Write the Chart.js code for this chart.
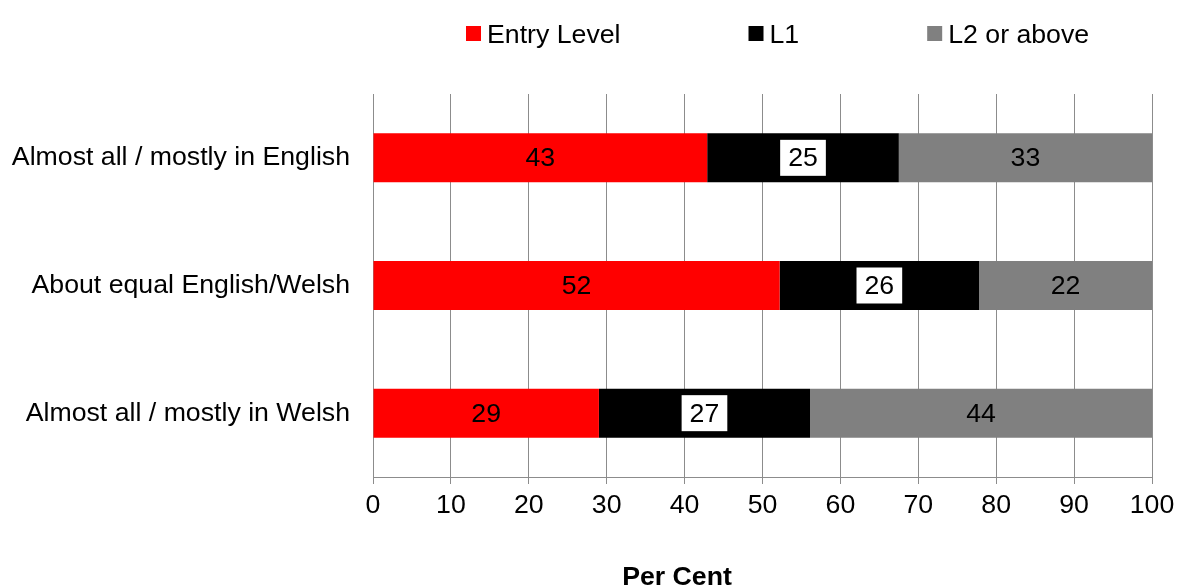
<!DOCTYPE html>
<html>
<head>
<meta charset="utf-8">
<script src="https://cdn.jsdelivr.net/npm/chart.js@4.4.0/dist/chart.umd.min.js"></script>
<style>
    html, body { margin: 0; padding: 0; background: #fff; }
</style>
</head>
<body>
<canvas id="levelChart" width="1178" height="587"></canvas>
<script>
// Values (each bar adds up to 100)
const categories = ['Almost all / mostly in English', 'About equal English/Welsh', 'Almost all / mostly in Welsh'];
const entryLevel = [42.9, 52.2, 29.0];
const levelOne = [24.6, 25.6, 27.1];
const levelTwoPlus = [32.5, 22.2, 43.9];
const seriesNames = ['Entry Level', 'L1', 'L2 or above'];
const seriesColors = ['#ff0000', '#000000', '#808080'];
const axisTitle = 'Per Cent';

const FONT = "'Liberation Sans', Arial, sans-serif";
const FONT_SIZE = 26.7;
const GRID = '#8c8c8c';

Chart.defaults.font.family = FONT;
Chart.defaults.font.size = FONT_SIZE;
Chart.defaults.color = '#000';

// Value labels in the middle of each segment, L1 ones sit on a white box
const barLabels = {
    id: 'barLabels',
    afterDatasetsDraw(chart) {
        const ctx = chart.ctx;
        ctx.save();
        ctx.font = FONT_SIZE + 'px ' + FONT;
        ctx.textAlign = 'center';
        ctx.textBaseline = 'middle';
        chart.data.datasets.forEach((ds, i) => {
            chart.getDatasetMeta(i).data.forEach((bar, j) => {
                const text = String(Math.round(ds.data[j]));
                const x = (bar.x + bar.base) / 2;
                const y = bar.y;
                if (i === 1) {
                    const w = ctx.measureText(text).width + 16;
                    ctx.fillStyle = '#fff';
                    ctx.fillRect(x - w / 2, y - 18, w, 36);
                }
                ctx.fillStyle = '#000';
                ctx.fillText(text, x, y + 1);
            });
        });
        ctx.restore();
    }
};

// Legend along the top, Excel style (small square then label)
const topLegend = {
    id: 'topLegend',
    afterDraw(chart) {
        const ctx = chart.ctx;
        ctx.save();
        ctx.font = FONT_SIZE + 'px ' + FONT;
        ctx.textBaseline = 'alphabetic';
        let x = 466;
        chart.data.datasets.forEach(ds => {
            ctx.fillStyle = ds.backgroundColor;
            ctx.fillRect(x, 26, 15, 15);
            ctx.fillStyle = '#000';
            ctx.fillText(ds.label, x + 21, 43);
            x += 21 + ctx.measureText(ds.label).width + 128;
        });
        ctx.restore();
    }
};

// Axis title under the tick labels
const xTitle = {
    id: 'xTitle',
    afterDraw(chart) {
        const ctx = chart.ctx;
        ctx.save();
        ctx.font = 'bold ' + FONT_SIZE + 'px ' + FONT;
        ctx.textAlign = 'center';
        ctx.textBaseline = 'alphabetic';
        ctx.fillStyle = '#000';
        ctx.fillText(axisTitle, 677, 585);
        ctx.restore();
    }
};

const levelChart = new Chart(document.getElementById('levelChart'), {
    type: 'bar',
    data: {
        labels: categories,
        datasets: [entryLevel, levelOne, levelTwoPlus].map((values, i) => ({
            label: seriesNames[i],
            data: values,
            backgroundColor: seriesColors[i],
            borderWidth: 0,
            barPercentage: 0.384,
            categoryPercentage: 1
        }))
    },
    options: {
        indexAxis: 'y',
        responsive: false,
        animation: false,
        layout: { padding: { top: 94, right: 26, left: 0, bottom: 0 } },
        plugins: {
            legend: { display: false },
            tooltip: { enabled: false }
        },
        scales: {
            x: {
                stacked: true,
                min: 0,
                max: 100,
                ticks: { stepSize: 10, padding: 6, color: '#000' },
                grid: { color: GRID, tickLength: 7 },
                border: { color: GRID },
                afterFit: scale => {
                    scale.height = 110;
                    scale.paddingLeft = 0;
                    scale.paddingRight = 0;
                }
            },
            y: {
                stacked: true,
                ticks: { padding: 23, color: '#000' },
                grid: { display: false, drawTicks: false },
                border: { color: GRID },
                afterFit: scale => {
                    scale.width = 373;
                    scale.paddingTop = 0;
                    scale.paddingBottom = 0;
                }
            }
        }
    },
    plugins: [barLabels, topLegend, xTitle]
});
</script>
</body>
</html>
